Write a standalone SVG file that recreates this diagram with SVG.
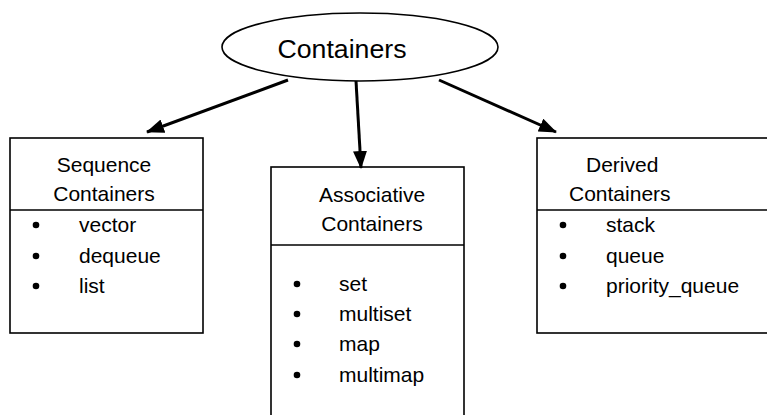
<svg xmlns="http://www.w3.org/2000/svg" width="767" height="415" viewBox="0 0 767 415">
<style>
.box{fill:#fff;stroke:#000;stroke-width:1.6}
.div{stroke:#000;stroke-width:1.6}
.t{font-family:"Liberation Sans",Arial,sans-serif;font-size:21px;fill:#000}
.h{text-anchor:middle}
.conn{stroke:#000;stroke-width:3;fill:none}
</style>
<defs>
<marker id="ah" markerUnits="userSpaceOnUse" markerWidth="18" markerHeight="14" refX="17" refY="7" orient="auto">
<path d="M0,0 L18,7 L0,14 Z" fill="#000"/>
</marker>
</defs>
<g id="root">
<ellipse cx="360" cy="47" rx="138" ry="34" fill="#fff" stroke="#000" stroke-width="1.6"/>
<text class="t" x="342" y="58" text-anchor="middle" style="font-size:26.7px">Containers</text>
</g>
<g id="sequence">
<rect class="box" x="10" y="138" width="193" height="195"/>
<line class="div" x1="10" y1="210" x2="203" y2="210"/>
<text class="t h" x="104" y="172">Sequence</text>
<text class="t h" x="104" y="201">Containers</text>
<circle cx="36" cy="225" r="3.3"/><text class="t" x="79" y="232">vector</text>
<circle cx="36" cy="256" r="3.3"/><text class="t" x="79" y="263">dequeue</text>
<circle cx="36" cy="286" r="3.3"/><text class="t" x="79" y="293">list</text>
</g>
<g id="associative">
<rect class="box" x="271" y="167" width="193" height="260"/>
<line class="div" x1="271" y1="245" x2="464" y2="245"/>
<text class="t h" x="372" y="202">Associative</text>
<text class="t h" x="372" y="231">Containers</text>
<circle cx="297" cy="284" r="3.3"/><text class="t" x="339" y="291">set</text>
<circle cx="297" cy="314" r="3.3"/><text class="t" x="339" y="321">multiset</text>
<circle cx="297" cy="344" r="3.3"/><text class="t" x="339" y="351">map</text>
<circle cx="297" cy="375" r="3.3"/><text class="t" x="339" y="382">multimap</text>
</g>
<g id="derived">
<rect class="box" x="537" y="138" width="240" height="195"/>
<line class="div" x1="537" y1="210" x2="777" y2="210"/>
<text class="t" x="586" y="172">Derived</text>
<text class="t" x="569" y="201">Containers</text>
<circle cx="563" cy="225" r="3.3"/><text class="t" x="606" y="232">stack</text>
<circle cx="563" cy="256" r="3.3"/><text class="t" x="606" y="263">queue</text>
<circle cx="563" cy="286" r="3.3"/><text class="t" x="606" y="293">priority_queue</text>
</g>
<g id="connectors">
<line class="conn" x1="288" y1="80" x2="147" y2="132" marker-end="url(#ah)"/>
<line class="conn" x1="356" y1="81" x2="361" y2="168" marker-end="url(#ah)"/>
<line class="conn" x1="439" y1="80" x2="556" y2="132" marker-end="url(#ah)"/>
</g>
</svg>
